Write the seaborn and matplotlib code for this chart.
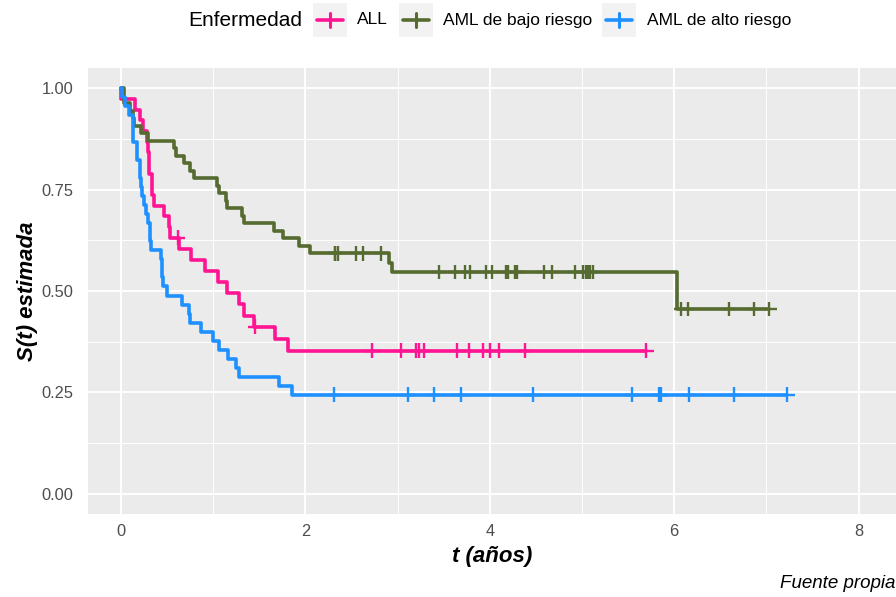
import numpy as np
import pandas as pd
import matplotlib
matplotlib.use("Agg")
import matplotlib.pyplot as plt
import seaborn as sns
from matplotlib.lines import Line2D
from matplotlib.patches import Rectangle

# Disease-free survival times (days) and event indicators (1 = relapse/death, 0 = censored)
all_dias = [1, 55, 74, 86, 104, 107, 109, 110, 122, 122, 129, 172, 192, 194, 230,
            276, 332, 383, 418, 466, 487, 526, 609, 662,
            226, 530, 996, 1111, 1167, 1182, 1199, 1330, 1377, 1433, 1462, 1496,
            1602, 2081]
all_evento = [1] * 24 + [0] * 14

aml_bajo_dias = [10, 10, 35, 48, 53, 80, 105, 211, 219, 248, 272, 288, 381, 390,
                 414, 421, 481, 486, 606, 641, 704, 748, 1063, 1074, 2204,
                 847, 848, 860, 932, 957, 1030, 1258, 1324, 1363, 1384, 1447, 1470,
                 1527, 1535, 1562, 1568, 1674, 1709, 1799, 1829, 1843, 1850, 1857,
                 1870, 2218, 2246, 2409, 2506, 2569]
aml_bajo_evento = [1] * 25 + [0] * 29

aml_alto_dias = [2, 16, 32, 47, 47, 48, 63, 64, 74, 76, 80, 84, 93, 100, 105, 113,
                 115, 120, 157, 162, 164, 168, 183, 242, 268, 273, 318, 363, 390,
                 422, 456, 467, 625, 677,
                 845, 1136, 1238, 1345, 1631, 2024, 2133, 2140, 2252, 2430, 2640]
aml_alto_evento = [1] * 34 + [0] * 11

grupos = ["ALL", "AML de bajo riesgo", "AML de alto riesgo"]
colores = ["#FF1493", "#556B2F", "#1E90FF"]
x_ticks = [0, 2, 4, 6, 8]
y_ticks = [0.00, 0.25, 0.50, 0.75, 1.00]


def kaplan_meier(dias, evento):
    """Step coordinates of the Kaplan-Meier estimate plus censoring points (in years)."""
    t = np.asarray(dias, dtype=float) / 365.25
    e = np.asarray(evento)
    n = len(t)
    s = 1.0
    xs, ys, cx, cy = [0.0], [1.0], [], []
    for u in np.unique(t):
        d = int(((t == u) & (e == 1)).sum())
        c = int(((t == u) & (e == 0)).sum())
        if d:
            s *= (n - d) / n
            xs.append(u)
            ys.append(s)
        if c:
            cx.append(u)
            cy.append(s)
        n -= d + c
    if xs[-1] < t.max():
        xs.append(t.max())
        ys.append(s)
    return xs, ys, cx, cy


curvas, censuras = [], []
for g, dias, ev in zip(grupos,
                       [all_dias, aml_bajo_dias, aml_alto_dias],
                       [all_evento, aml_bajo_evento, aml_alto_evento]):
    xs, ys, cx, cy = kaplan_meier(dias, ev)
    curvas.append(pd.DataFrame({"t": xs, "S": ys, "Enfermedad": g}))
    censuras.append(pd.DataFrame({"t": cx, "S": cy, "Enfermedad": g}))
curvas = pd.concat(curvas, ignore_index=True)
censuras = pd.concat(censuras, ignore_index=True)

sns.set_style("white")
plt.rcParams["font.family"] = ["Liberation Sans", "DejaVu Sans"]

W, H = 896, 597
fig = plt.figure(figsize=(W / 100, H / 100), dpi=100)
fig.patch.set_facecolor("white")

# panel geometry in pixels
left, right, top, bottom = 88, 896, 68, 514
ax = fig.add_axes([left / W, 1 - bottom / H, (right - left) / W, (bottom - top) / H])
ax.set_facecolor("#EBEBEB")
for sp in ax.spines.values():
    sp.set_visible(False)

paleta = dict(zip(grupos, colores))
sns.lineplot(data=curvas, x="t", y="S", hue="Enfermedad", hue_order=grupos,
             palette=paleta, estimator=None, sort=False, drawstyle="steps-post",
             linewidth=2.6, legend=False, ax=ax, zorder=3)
sns.scatterplot(data=censuras, x="t", y="S", hue="Enfermedad", hue_order=grupos,
                palette=paleta, marker="+", s=110, linewidth=1.7, legend=False,
                ax=ax, zorder=4)

x0 = (left - 121) / 92.2
x1 = (right - 121) / 92.2
ax.set_xlim(x0, x1)
ax.set_ylim(-0.05, 1.05)
ax.set_xticks(x_ticks)
ax.set_xticks([1, 3, 5, 7], minor=True)
ax.set_yticks(y_ticks)
ax.set_yticklabels([f"{v:.2f}" for v in y_ticks])
ax.set_yticks([0.125, 0.375, 0.625, 0.875], minor=True)
ax.grid(which="major", color="white", linewidth=1.4, zorder=0)
ax.grid(which="minor", color="white", linewidth=0.7, zorder=0)
ax.set_axisbelow(True)
ax.tick_params(which="major", length=4, width=1.1, color="#333333",
               labelcolor="#4D4D4D", labelsize=11.8)
ax.tick_params(axis="y", which="major", pad=6.5)
ax.tick_params(axis="x", which="major", pad=3)
ax.tick_params(which="minor", length=0)

ax.set_xlabel("t (años)", fontsize=16, fontweight="bold", fontstyle="italic",
              color="black", labelpad=5)
ax.set_ylabel("S(t) estimada", fontsize=16, fontweight="bold", fontstyle="italic",
              color="black", labelpad=2.5)


def fx(px):
    return px / W


def fy(py):
    return 1 - py / H


# legend across the top
fig.text(fx(188), fy(20), "Enfermedad", fontsize=15, va="center", ha="left",
         color="black")
cajas = [313, 399, 602]
textos_x = [357, 443, 647]
for g, c, bx, tx in zip(grupos, colores, cajas, textos_x):
    fig.add_artist(Rectangle((fx(bx), fy(37)), 34 / W, 34 / H,
                             transform=fig.transFigure, facecolor="#F2F2F2",
                             edgecolor="none"))
    cx = bx + 17
    fig.add_artist(Line2D([fx(cx - 13), fx(cx + 13)], [fy(20), fy(20)],
                          transform=fig.transFigure, color=c, linewidth=2.6))
    fig.add_artist(Line2D([fx(cx), fx(cx)], [fy(13), fy(27)],
                          transform=fig.transFigure, color=c, linewidth=2.2))
    fig.text(fx(tx), fy(20), g, fontsize=12.5, va="center", ha="left",
             color="black")

fig.text(fx(895), fy(583), "Fuente propia", fontsize=13.5, fontstyle="italic",
         ha="right", va="center", color="black")

fig.savefig("out.png", dpi=100)
